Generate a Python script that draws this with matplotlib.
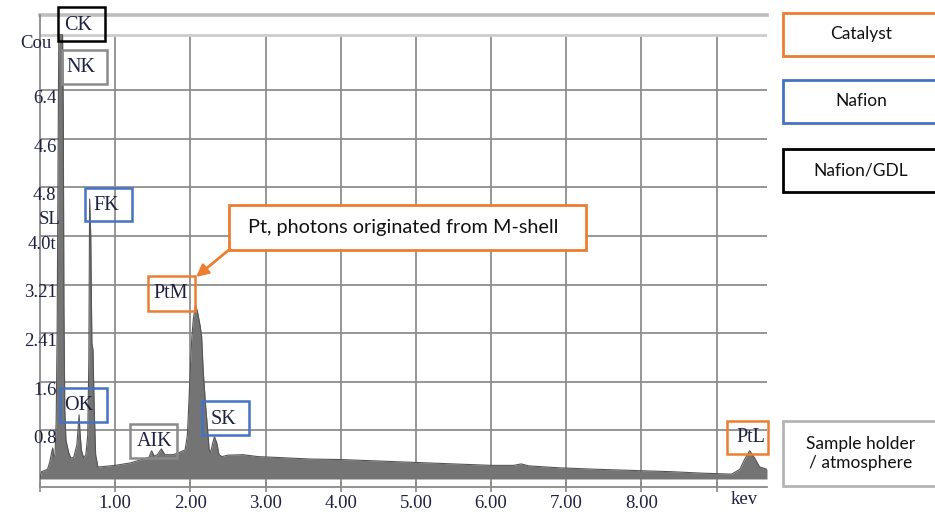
import matplotlib
matplotlib.use('Agg')
import matplotlib.pyplot as plt
from matplotlib.patches import Rectangle, FancyArrowPatch

# ---------------- data ----------------
energy_kev = [0.00, 0.02, 0.10, 0.13, 0.155, 0.17, 0.185, 0.20, 0.215, 0.228,
              0.24, 0.25, 0.30, 0.31, 0.318, 0.33, 0.345, 0.38, 0.41, 0.45,
              0.49, 0.51, 0.52, 0.53, 0.55, 0.58, 0.61, 0.635, 0.65, 0.66,
              0.675, 0.69, 0.705, 0.72, 0.74, 0.77, 0.80, 1.00, 1.20, 1.40,
              1.45, 1.485, 1.52, 1.56, 1.615, 1.66, 1.77, 1.86, 1.93, 1.96,
              1.98, 2.00, 2.02, 2.04, 2.07, 2.10, 2.13, 2.15, 2.17, 2.20,
              2.23, 2.25, 2.27, 2.30, 2.32, 2.35, 2.38, 2.42, 2.50, 2.70,
              2.90, 3.20, 3.60, 4.00, 4.50, 5.00, 5.50, 6.00, 6.30, 6.40,
              6.50, 6.90, 7.40, 7.70, 8.00, 8.40, 8.80, 9.20, 9.31, 9.37,
              9.44, 9.51, 9.57, 9.67]
counts = [0.00, 0.15, 0.20, 0.35, 0.55, 0.64, 0.45, 0.50, 1.20, 3.00,
          6.50, 9.14, 9.14, 7.40, 3.50, 1.40, 0.80, 0.55, 0.43, 0.45,
          0.70, 1.10, 1.32, 1.00, 0.60, 0.43, 0.50, 0.90, 2.50, 5.76,
          5.00, 2.80, 2.65, 1.50, 0.50, 0.25, 0.25, 0.28, 0.33, 0.42,
          0.45, 0.58, 0.47, 0.50, 0.62, 0.50, 0.50, 0.55, 0.60, 0.90,
          1.56, 2.30, 2.93, 3.30, 3.58, 3.40, 3.15, 2.93, 2.24, 1.56,
          1.00, 0.60, 0.55, 0.75, 0.87, 0.75, 0.50, 0.46, 0.49, 0.50,
          0.46, 0.44, 0.41, 0.40, 0.37, 0.34, 0.31, 0.28, 0.28, 0.31,
          0.27, 0.23, 0.20, 0.185, 0.17, 0.15, 0.12, 0.10, 0.20, 0.40,
          0.58, 0.42, 0.25, 0.20]

x_ticks = [0, 1, 2, 3, 4, 5, 6, 7, 8, 9]
x_tick_labels = ['', '1.00', '2.00', '3.00', '4.00', '5.00', '6.00', '7.00', '8.00', '']
x_unit_label = 'kev'
grid_levels = [1, 2, 3, 4, 5, 6, 7, 8]
y_tick_labels = ['0.8', '1.6', '2.41', '3.21', '4.0t', '4.8', '4.6', '6.4']
extra_y_labels = ['SL', 'Cou']
peak_labels = ['CK', 'NK', 'FK', 'OK', 'AIK', 'PtM', 'SK', 'PtL']
legend_labels = ['Catalyst', 'Nafion', 'Nafion/GDL', 'Sample holder\n/ atmosphere']
callout_text = 'Pt, photons originated from M-shell'

# ---------------- styling ----------------
ORANGE = '#ed7d31'
BLUE = '#4472c4'
BLACK = '#000000'
GRAYBOX = '#8a8a8a'
LIGHTBOX = '#b4b4b4'
TXT = '#1e2140'
SERIF = 'Liberation Serif'
SANS = 'Lato'
TICK_FS = 13.5

W, H = 935, 514
fig = plt.figure(figsize=(9.35, 5.14), dpi=100)


def fx(px):
    return px / W


def fy(py):
    return 1 - py / H


# axes: left 40 px, right 767 px, top 15 px, bottom 487 px
ax = fig.add_axes([fx(40), fy(487), fx(767) - fx(40), fy(15) - fy(487)])
ax.set_xlim(0, 9.67)
ax.set_ylim(-0.165, 9.547)
ax.patch.set_alpha(0)

# grid
for lev in grid_levels:
    ax.axhline(lev, color='#8e8e8e', lw=1.3, zorder=1)
ax.vlines(x_ticks[1:], -0.165, 9.136, color='#8e8e8e', lw=1.3, zorder=1)
ax.axhline(9.136, color='#cccccc', lw=2.0, zorder=1)
ax.axhline(9.547, color='#bdbdbd', lw=2.6, zorder=1, clip_on=False)

# spectrum
ax.fill_between(energy_kev, counts, 0, color='#747474', lw=0, zorder=2)
ax.plot(energy_kev, counts, color='#555555', lw=0.8, zorder=3)

# spines / ticks
for s in ['top', 'right']:
    ax.spines[s].set_visible(False)
ax.spines['left'].set_color('#8a8a8a')
ax.spines['left'].set_linewidth(1.3)
ax.spines['bottom'].set_color('#8a8a8a')
ax.spines['bottom'].set_linewidth(1.3)
ax.set_yticks([])
ax.set_xticks(x_ticks)
ax.set_xticklabels(x_tick_labels, fontfamily=SERIF, fontsize=TICK_FS, color=TXT)
ax.tick_params(axis='x', direction='inout', length=7, width=1.2, color='#8a8a8a', pad=2)
ax.text(9.37, -0.42, x_unit_label, ha='center', va='center', fontfamily=SERIF,
        fontsize=TICK_FS, color=TXT, clip_on=False)

# y labels (garbled in original, kept as drawn)
for lev, lab in zip(grid_levels, y_tick_labels):
    ax.text(0.22, lev - 0.17, lab, ha='right', va='center', fontfamily=SERIF,
            fontsize=TICK_FS, color=TXT, clip_on=False, zorder=5)
ax.text(0.27, 5.33, extra_y_labels[0], ha='right', va='center', fontfamily=SERIF,
        fontsize=TICK_FS, color=TXT, clip_on=False, zorder=5)
ax.text(0.15, 8.97, extra_y_labels[1], ha='right', va='center', fontfamily=SERIF,
        fontsize=TICK_FS, color=TXT, clip_on=False, zorder=5)


def box(x0, y0, x1, y1, color, lw=1.8, fill=False):
    r = Rectangle((fx(x0), fy(y1)), fx(x1) - fx(x0), fy(y0) - fy(y1),
                  transform=fig.transFigure, fill=fill, facecolor='white',
                  edgecolor=color, lw=lw, zorder=10)
    fig.add_artist(r)


# peak label boxes: (box px, text center px, color)
peak_boxes = [
    ((58, 7, 105, 41), (78, 25), BLACK),
    ((62, 50, 107, 84), (81, 67), GRAYBOX),
    ((85, 188, 132, 221), (106, 205), BLUE),
    ((60, 388, 107, 422), (79, 405), BLUE),
    ((130, 424, 177, 458), (155, 441), GRAYBOX),
    ((148, 276, 195, 311), (171, 294), ORANGE),
    ((202, 401, 249, 435), (223, 419), BLUE),
    ((727, 421, 768, 454), (751, 438), ORANGE),
]
for lab, (b, t, c) in zip(peak_labels, peak_boxes):
    box(*b, c)
    fig.text(fx(t[0]), fy(t[1]), lab, ha='center', va='center', fontfamily=SERIF,
             fontsize=14.5, color=TXT, zorder=11)

# callout
box(229, 205, 586, 250, ORANGE, lw=2.0, fill=True)
fig.text(fx(403), fy(228), callout_text, ha='center', va='center', fontfamily=SANS,
         fontsize=14.3, color='#111111', zorder=11)
arr = FancyArrowPatch(posA=(fx(230), fy(249)), posB=(fx(196), fy(277)),
                      transform=fig.transFigure, arrowstyle='-|>', mutation_scale=18,
                      color=ORANGE, lw=2.0, zorder=12, shrinkA=0, shrinkB=0)
fig.add_artist(arr)

# legend boxes on the right
legend_boxes = [
    ((783, 13, 936, 56), ORANGE),
    ((783, 80, 936, 123), BLUE),
    ((783, 149, 936, 192), BLACK),
    ((783, 421, 936, 486), LIGHTBOX),
]
for lab, (b, c) in zip(legend_labels, legend_boxes):
    box(*b, c, lw=2.0)
    fig.text(fx(861), fy((b[1] + b[3]) / 2), lab, ha='center', va='center',
             fontfamily=SANS, fontsize=12.5, color='#111111', linespacing=1.3, zorder=11)

fig.savefig('out.png', dpi=100)
